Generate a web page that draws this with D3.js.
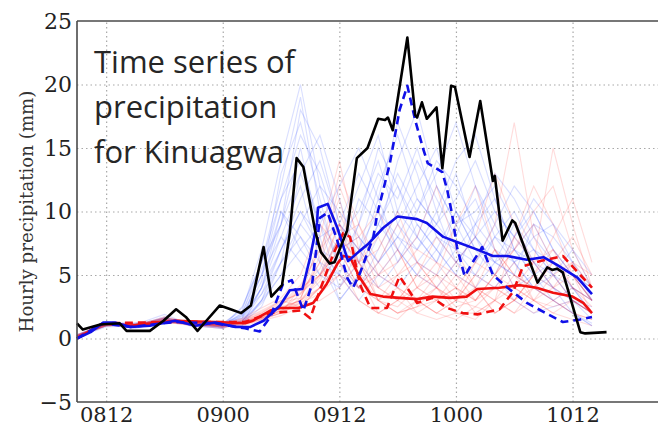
<!DOCTYPE html>
<html>
<head>
<meta charset="utf-8">
<script src="https://cdn.jsdelivr.net/npm/d3@7"></script>
<style>
  html, body { margin: 0; padding: 0; background: #fff; }
  svg { display: block; }
</style>
</head>
<body>
<svg id="chart" width="658" height="428"></svg>
<script>
// ---------------- DATA ----------------
// hours counted from day 08, 00h (12 -> 0812, 24 -> 0900, ...)
const xTickHours = [12, 24, 36, 48, 60];
const xTickLabels = ["0812", "0900", "0912", "1000", "1012"];
const yTicks = [-5, 0, 5, 10, 15, 20, 25];

// observed (black)
const obsHours = [9.0, 9.6, 11.4, 13.4, 14.1, 16.5, 17.9, 19.2, 20.2, 21.4, 22.2, 23.7, 24.8, 25.9, 26.9, 28.2, 29.0, 30.1, 30.9, 31.6, 32.3, 33.5, 34.1, 35.0, 35.5, 36.8, 37.8, 38.9, 40.0, 40.7, 41.0, 41.5, 43.0, 43.8, 44.0, 44.5, 45.0, 46.0, 46.6, 47.5, 47.9, 49.4, 50.5, 51.8, 52.0, 52.8, 53.8, 54.1, 56.4, 57.4, 57.9, 58.4, 59.0, 60.8, 61.3, 63.5];
const obsValues = [1.2, 0.7, 1.1, 1.2, 0.6, 0.6, 1.4, 2.3, 1.7, 0.6, 1.3, 2.6, 2.3, 2.0, 2.6, 7.2, 3.3, 4.2, 8.3, 14.2, 13.5, 8.5, 6.8, 5.9, 6.0, 8.5, 14.2, 15.0, 17.3, 17.2, 17.4, 16.4, 23.7, 17.6, 17.4, 18.6, 17.3, 18.2, 13.4, 19.9, 19.8, 14.3, 18.7, 12.4, 12.8, 7.7, 9.3, 9.1, 4.4, 5.6, 5.4, 5.5, 5.2, 0.5, 0.4, 0.5];

// blue ensemble mean (solid)
const blueMeanHours = [9.0, 10.4, 11.7, 12.9, 14.5, 16.5, 19.1, 21.2, 23.2, 25.3, 26.8, 28.2, 29.9, 30.9, 32.2, 33.0, 33.7, 33.8, 34.8, 35.8, 36.9, 38.1, 38.9, 40.5, 42.0, 44.0, 45.0, 46.7, 48.1, 50.2, 51.8, 53.3, 55.3, 57.0, 58.4, 60.5, 62.0];
const blueMeanValues = [0.0, 0.5, 1.26, 1.26, 0.9, 1.0, 1.4, 1.0, 1.26, 0.9, 0.9, 1.4, 2.6, 3.8, 3.9, 6.4, 9.1, 10.3, 10.6, 8.7, 6.1, 6.9, 7.4, 8.7, 9.6, 9.4, 9.1, 8.0, 7.6, 7.0, 6.5, 6.5, 6.2, 6.4, 5.8, 4.8, 3.5];

// blue dashed
const blueDashHours = [9.0, 11.7, 14.5, 19.1, 23.2, 26.3, 27.8, 28.9, 30.2, 31.1, 31.8, 32.3, 33.2, 33.7, 34.0, 34.8, 35.8, 36.8, 37.4, 38.1, 39.5, 39.9, 41.2, 42.2, 43.0, 43.8, 44.6, 45.1, 46.6, 47.1, 47.6, 48.1, 48.9, 49.8, 50.7, 51.8, 53.3, 55.3, 57.0, 59.0, 60.8, 62.0];
const blueDashValues = [0.0, 1.2, 0.9, 1.3, 1.2, 0.8, 0.55, 1.7, 4.3, 4.6, 3.2, 2.2, 4.3, 7.5, 9.5, 9.9, 7.7, 4.8, 4.0, 5.1, 8.0, 9.8, 13.8, 18.0, 19.9, 17.2, 15.0, 13.8, 13.1, 11.7, 9.8, 7.2, 4.9, 6.1, 7.2, 5.0, 4.0, 2.8, 2.1, 1.3, 1.5, 1.7];

// red ensemble mean (solid)
const redMeanHours = [9.0, 11.7, 14.5, 19.1, 23.2, 26.3, 27.1, 28.9, 29.9, 31.8, 33.3, 34.7, 35.8, 36.4, 37.1, 38.1, 39.2, 40.5, 42.2, 44.0, 45.6, 47.4, 49.1, 50.2, 52.5, 54.6, 56.3, 58.0, 60.0, 61.1, 62.0];
const redMeanValues = [0.0, 1.2, 1.0, 1.4, 1.3, 1.2, 1.4, 2.2, 2.4, 2.4, 2.8, 4.3, 5.9, 6.5, 6.4, 4.8, 3.5, 3.3, 3.2, 3.1, 3.3, 3.2, 3.3, 3.9, 4.0, 4.2, 4.0, 3.6, 3.3, 2.8, 2.0];

// red dashed
const redDashHours = [9.0, 11.7, 19.1, 26.3, 28.9, 32.0, 33.0, 34.0, 35.4, 36.4, 37.1, 38.1, 39.2, 40.9, 42.2, 44.0, 45.6, 47.1, 48.7, 50.2, 52.5, 53.9, 54.9, 56.7, 59.0, 60.8, 62.0];
const redDashValues = [0.0, 1.2, 1.3, 1.3, 2.0, 2.2, 1.6, 3.8, 6.7, 8.3, 8.0, 4.3, 2.4, 2.4, 4.9, 2.8, 3.2, 2.4, 2.0, 1.9, 2.3, 3.7, 5.7, 6.1, 6.5, 5.0, 4.0];

// ensemble members (faint)
const memberHours = [9, 12, 15, 18, 21, 24, 26, 28, 30, 32, 34, 36, 38, 40, 42, 44, 46, 48, 50, 52, 54, 56, 58, 60, 62];
const blueMembers = [
  [0.2,1.2,0.9,1.5,1.0,0.8,1.5,4,9,15,8,3,5,9,12,8,6,10,7,5,8,6,4,3,2.5],
  [0.1,1.0,1.2,1.3,1.4,1.0,2,6,12,19,10,6,4,7,10,14,11,8,12,9,6,7,5,4,3],
  [0.0,1.3,1.0,1.6,1.2,1.1,1.0,3,7,11,14,9,7,12,16,11,9,13,8,6,9,7,6,5,4],
  [0.3,1.1,0.8,1.4,1.1,0.9,1.8,5,10,8,6,5,9,15,12,9,7,5,9,11,7,5,6,4,3],
  [0.2,1.2,1.1,1.2,1.3,1.0,1.2,2.5,6,13,9,4,6,11,17,13,8,6,5,8,10,7,5,3,1.5],
  [0.1,0.9,1.0,1.7,0.9,1.2,2.2,7,14,20,12,7,8,6,9,12,15,10,7,6,5,9,8,6,4],
  [0.2,1.3,0.9,1.4,1.0,0.8,1.4,3,5,9,7,6,11,9,7,10,13,17,12,8,6,4,5,7,5],
  [0.1,1.1,1.0,1.5,1.2,1.1,1.0,4,8,12,6,3,5,8,14,18,12,9,10,12,9,6,4,2,1],
  [0.2,1.0,1.2,1.3,1.1,0.9,2.5,6,11,16,13,8,10,14,9,7,9,11,14,10,8,10,7,5,3],
  [0.3,1.2,1.0,1.6,1.3,1.0,1.3,3.5,7,10,8,9,13,10,8,6,8,7,9,13,11,8,6,5,4],
  [0.1,1.0,1.1,1.9,1.0,1.3,1.6,5,8,6,4,7,6,4,6,9,7,5,4,6,5,4,3,2,1.2],
  [0.2,1.1,1.0,1.4,1.2,1.0,1.7,4.5,13,17,11,5,3,5,7,5,4,6,8,5,3,2,2.5,3,2],
  [0.2,1.1,1.0,1.3,1.2,1.0,1.9,3.5,6,9,12,10,8,6,8,11,9,7,6,8,7,9,6,4,2],
  [0.1,1.2,0.9,1.6,1.1,0.9,1.3,4,10,7,5,8,12,16,10,8,6,9,11,7,4,5,4,3,2],
  [0.2,1.0,1.1,1.4,1.3,1.1,2.0,5.5,9,13,16,11,6,9,13,10,14,12,9,7,6,8,9,6,3],
  [0.3,1.1,1.0,1.5,1.0,1.0,1.4,2.8,5,7,9,12,15,11,7,5,7,10,8,6,7,5,3,4,2],
  [0.1,1.3,1.2,1.3,1.2,0.9,1.6,4,7,10,7,5,4,6,8,7,10,14,16,11,7,6,5,3,2],
  [0.2,1.2,1.0,1.5,1.1,1.1,2.4,6,9,18,15,9,7,10,6,8,12,9,6,9,12,10,7,5,3],
  [0.2,1.0,0.9,1.4,1.3,1.0,1.2,3,6,8,5,4,7,5,4,6,5,7,5,4,6,4,3,2,1],
  [0.1,1.1,1.1,1.6,1.0,1.2,1.8,5,11,14,9,6,9,13,11,15,10,6,8,10,8,11,9,7,4]
];
const redMembers = [
  [0.2,1.1,1.0,1.4,1.2,1.0,1.3,1.8,2.5,3,5,9,6,3,2,3,4,2.5,3,5,7,9,6,4,3],
  [0.1,1.2,0.9,1.5,1.1,0.9,1.1,1.5,2,4,7,11,5,2,3,2,1.5,2,4,3,2,4,6,8,5],
  [0.3,1.0,1.1,1.3,1.2,1.1,1.4,2,3,2.5,4,7,4,5,7,4,3,4,2,3,5,4,3,2,1.5],
  [0.2,1.3,1.0,1.6,1.0,0.8,1.2,1.6,2.2,3.5,6,12,8,4,3,5,8,6,4,2,3,5,7,5,3],
  [0.1,1.1,1.2,1.2,1.3,1.0,1.0,1.4,1.8,2.5,4,6,3,2,1.5,3,2,1.5,2.5,4,6,3,2,3,2],
  [0.2,1.0,0.9,1.5,1.1,1.2,1.5,2.2,3,3.5,5,8,9,6,4,3,5,9,12,7,4,3,5,6,4],
  [0.3,1.2,1.0,1.4,1.2,0.9,1.3,1.9,2.4,3,8,14,7,3,2,2.5,3,2,1.5,3,8,12,9,5,2],
  [0.1,1.1,1.1,1.3,1.0,1.1,1.2,1.7,2.6,4,5,7,5,4,5,7,6,4,3,5,4,6,15,9,4],
  [0.2,1.2,1.0,1.6,1.3,1.0,1.1,1.5,2,2.8,3.5,5,4,3,4,2,3,5,4,2,3,2,3,4,3],
  [0.2,1.0,1.1,1.4,1.1,1.0,1.4,2,2.8,3.2,6,10,6,3,2.5,4,5,3,6,9,17,8,5,3,2],
  [0.2,1.1,1.0,1.7,1.2,1.1,1.6,2.4,3.2,5,9,7,4,6,9,6,4,3,5,4,3,5,4,6,5],
  [0.1,1.2,1.1,1.3,1.1,1.0,1.2,1.6,2.1,2.6,3,4,6,8,5,3,2,3,4,7,5,3,2,1.5,1],
  [0.2,1.2,1.0,1.5,1.1,1.0,1.3,1.7,2.3,3,4.5,8,6,4,3,4,6,5,3,4,3,5,8,11,6],
  [0.1,1.0,1.1,1.4,1.2,1.1,1.2,1.8,2.6,3.8,5.5,9,7,5,6,8,12,7,4,3,4,3,2.5,3,2],
  [0.3,1.1,1.0,1.3,1.0,0.9,1.4,1.6,2.2,2.8,4,5,3,2,3,5,4,3,5,7,5,4,6,5,3],
  [0.2,1.2,1.1,1.6,1.3,1.0,1.1,1.5,2,3.2,6.5,13,9,5,4,3,2,3,2.5,2,3,4,3,2,1.5],
  [0.1,1.1,0.9,1.4,1.1,1.1,1.5,2.1,2.9,3.6,5,7,8,10,7,4,3,4,6,5,8,6,4,5,3],
  [0.2,1.0,1.1,1.5,1.2,1.0,1.2,1.6,2.4,3,4,6,4,3,2,2.5,4,6,8,13,9,6,7,4,2.5],
  [0.2,1.2,1.0,1.3,1.1,1.1,1.3,1.9,2.7,4.2,7,9,5,3,5,6,4,2,2,3,2,3,4,3,2],
  [0.1,1.1,1.2,1.5,1.2,0.9,1.3,1.7,2.2,2.9,4.8,8,6,7,10,6,5,4,3,5,7,10,12,7,4]
];

const titleLines = ["Time series of", "precipitation", "for Kinuagwa"];
const yLabel = "Hourly precipitation (mm)";

// ---------------- LAYOUT ----------------
const svg = d3.select("#chart");
const mLeft = 77, mRight = 660, mTop = 21, mBottom = 402;

const x = d3.scaleLinear().domain([9, 69]).range([mLeft, mRight]);
const y = d3.scaleLinear().domain([-5, 25]).range([mBottom, mTop]);

// grid
const grid = svg.append("g");
grid.append("g")
  .attr("transform", `translate(0,${mBottom})`)
  .call(d3.axisBottom(x).tickValues(xTickHours).tickSize(-(mBottom - mTop)).tickFormat(""))
  .call(g => g.select(".domain").remove())
  .call(g => g.selectAll("line").attr("stroke", "#a8a8a8").attr("stroke-width", 1.2).attr("stroke-dasharray", "1.5,3"));
grid.append("g")
  .attr("transform", `translate(${mLeft},0)`)
  .call(d3.axisLeft(y).tickValues(yTicks.filter(v => v > -5 && v < 25)).tickSize(-(mRight - mLeft)).tickFormat(""))
  .call(g => g.select(".domain").remove())
  .call(g => g.selectAll("line").attr("stroke", "#a8a8a8").attr("stroke-width", 1.2).attr("stroke-dasharray", "1.5,3"));

// members
const line = d3.line().x(d => x(d[0])).y(d => y(d[1]));
const mg = svg.append("g");
blueMembers.forEach(vals => {
  mg.append("path").datum(memberHours.map((h, i) => [h, vals[i]]))
    .attr("d", line).attr("fill", "none").attr("stroke", "#3050ff")
    .attr("stroke-opacity", 0.18).attr("stroke-width", 1.1);
});
redMembers.forEach(vals => {
  mg.append("path").datum(memberHours.map((h, i) => [h, vals[i]]))
    .attr("d", line).attr("fill", "none").attr("stroke", "#ff3030")
    .attr("stroke-opacity", 0.17).attr("stroke-width", 1.1);
});

function drawSeries(hours, values, color, dashed, width) {
  svg.append("path").datum(hours.map((h, i) => [h, values[i]]))
    .attr("d", line).attr("fill", "none").attr("stroke", color)
    .attr("stroke-width", width).attr("stroke-linejoin", "round")
    .attr("stroke-dasharray", dashed ? "8,5" : null);
}
drawSeries(redDashHours, redDashValues, "#f01010", true, 2.6);
drawSeries(redMeanHours, redMeanValues, "#f01010", false, 2.6);
drawSeries(blueDashHours, blueDashValues, "#1010e8", true, 2.6);
drawSeries(blueMeanHours, blueMeanValues, "#1010e8", false, 2.6);
drawSeries(obsHours, obsValues, "#000000", false, 2.6);

// spines
const sp = svg.append("g").attr("stroke", "#4a4a4a").attr("stroke-width", 1.6).attr("fill", "none");
sp.append("line").attr("x1", mLeft).attr("x2", mLeft).attr("y1", mTop).attr("y2", mBottom);
sp.append("line").attr("x1", mLeft).attr("x2", mRight).attr("y1", mTop).attr("y2", mTop);
sp.append("line").attr("x1", mLeft).attr("x2", mRight).attr("y1", mBottom).attr("y2", mBottom);

// axes labels
const yAxis = svg.append("g").attr("transform", `translate(${mLeft},0)`)
  .call(d3.axisLeft(y).tickValues(yTicks).tickSize(0).tickPadding(5));
yAxis.select(".domain").remove();
yAxis.selectAll("text").attr("font-family", "DejaVu Serif").attr("font-size", 22).attr("fill", "#222");

const xAxis = svg.append("g").attr("transform", `translate(0,${mBottom})`)
  .call(d3.axisBottom(x).tickValues(xTickHours).tickSize(0).tickPadding(5)
    .tickFormat((d, i) => xTickLabels[i]));
xAxis.select(".domain").remove();
xAxis.selectAll("text").attr("font-family", "DejaVu Serif").attr("font-size", 21).attr("fill", "#222");

// y label (centred on the axes, like matplotlib)
const yl = svg.append("text")
  .attr("transform", `translate(33,${(mTop + mBottom) / 2}) rotate(-90)`)
  .attr("text-anchor", "middle")
  .attr("font-family", "DejaVu Serif").attr("font-size", 15).attr("fill", "#333")
  .text(yLabel);
const len = yl.node().getComputedTextLength();
yl.attr("font-size", 15 * 242 / len);

// title text
svg.append("g").selectAll("text").data(titleLines).join("text")
  .attr("x", 94).attr("y", (d, i) => 73 + i * 45)
  .attr("font-family", "Open Sans").attr("font-size", 31).attr("fill", "#262626")
  .text(d => d);
</script>
</body>
</html>
